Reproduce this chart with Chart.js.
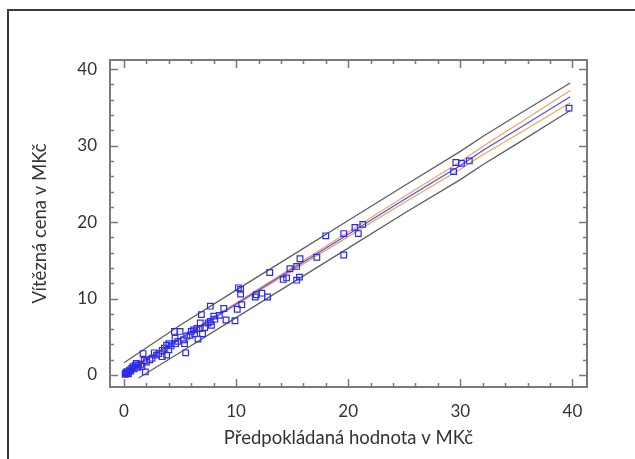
<!DOCTYPE html>
<html>
<head>
<meta charset="utf-8">
<script src="https://cdn.jsdelivr.net/npm/chart.js@4"></script>
<style>
  html, body { margin: 0; padding: 0; background: #fff; }
  #wrap { position: relative; width: 635px; height: 459px; overflow: hidden; }
  #frame { position: absolute; left: 7px; top: 9px; width: 640px; height: 470px;
           border-top: 2px solid #3a3a3a; border-left: 2px solid #3a3a3a; box-sizing: border-box; }
  canvas { position: absolute; left: 0; top: 0; }
</style>
</head>
<body>
<div id="wrap">
  <div id="frame"></div>
  <canvas id="c" width="635" height="459"></canvas>
</div>
<script>
// ---- data ----
const xTicks = [0, 10, 20, 30, 40];
const yTicks = [0, 10, 20, 30, 40];
const xTitle = "Předpokládaná hodnota v MKč";
const yTitle = "Vítězná cena v MKč";

const pointX = [39.7, 30.8, 30.1, 29.6, 29.4, 21.3, 20.9, 20.6, 19.6, 18.0, 19.6, 17.2, 15.7, 15.4, 14.8,
  14.2, 14.5, 15.4, 15.65, 13.0, 10.4, 10.2, 10.4, 11.8, 12.3, 12.8, 11.7, 10.5, 10.1, 9.9,
  9.1, 8.9, 7.7, 6.9, 8.0, 8.5, 8.1, 7.7, 7.8, 7.5, 6.8, 6.8, 7.0, 6.5, 6.2,
  6.6, 6.0, 5.9, 4.5, 5.0, 4.55, 5.3, 5.4, 4.6, 3.8, 4.0, 3.4, 5.5, 3.8, 1.7,
  4.0, 2.9, 3.4, 2.5, 2.0, 1.1, 1.6, 1.9, 0.8, 0.5, 0.4, 0.25, 0.7, 1.0, 1.3,
  0.1, 0.2, 0.3, 0.6, 0.15, 0.9, 1.2, 1.5, 1.8, 2.3, 2.7, 3.1, 3.6, 4.2, 4.8,
  5.6, 6.3, 7.2];
const pointY = [34.9, 28.0, 27.7, 27.8, 26.6, 19.7, 18.5, 19.3, 18.5, 18.2, 15.7, 15.4, 15.2, 14.2, 13.9,
  12.5, 12.7, 12.4, 12.8, 13.4, 11.2, 11.4, 10.6, 10.5, 10.7, 10.2, 10.2, 9.2, 8.6, 7.1,
  7.2, 8.7, 9.0, 7.9, 7.7, 7.8, 7.3, 7.0, 6.5, 6.8, 6.8, 6.1, 5.4, 6.1, 5.9,
  4.7, 5.7, 5.2, 5.7, 5.7, 4.8, 4.6, 4.1, 4.1, 3.9, 3.3, 3.2, 2.9, 2.6, 2.8,
  4.1, 2.6, 2.4, 2.2, 1.7, 1.5, 1.1, 0.4, 1.1, 0.65, 0.2, 0.45, 0.9, 1.3, 1.3,
  0.1, 0.3, 0.15, 0.5, 0.25, 0.8, 1.0, 1.4, 1.9, 2.0, 2.9, 2.8, 3.5, 3.8, 4.4,
  5.1, 5.4, 6.2];

const fitX = [0, 5, 10, 15, 20, 25, 30, 32, 35, 39.8];
const fitY = [0.2, 4.75, 9.3, 13.85, 18.4, 22.95, 27.4, 29.35, 32.05, 36.4];
const ciUpperY = [0.4, 4.85, 9.42, 14.05, 18.7, 23.35, 27.9, 29.9, 32.7, 37.2];
const ciLowerY = [0.0, 4.65, 9.18, 13.65, 18.1, 22.55, 26.9, 28.8, 31.4, 35.6];
const piUpperX = [0, 5, 10, 15, 20, 25, 30, 32, 35, 39.8];
const piUpperY = [1.6, 6.5, 11.1, 15.65, 20.2, 24.75, 29.25, 31.2, 33.9, 38.2];
const piLowerX = [1.3, 5, 10, 15, 20, 25, 30, 32, 35, 39.8];
const piLowerY = [-0.4, 2.95, 7.5, 12.05, 16.6, 21.15, 25.55, 27.5, 30.2, 34.6];

const zip = (xs, ys) => xs.map((x, i) => ({ x: x, y: ys[i] }));

// ---- inward ticks + plot frame ----
const framePlugin = {
  id: 'frameTicks',
  afterDraw(chart) {
    const ctx = chart.ctx, a = chart.chartArea;
    const xs = chart.scales.x, ys = chart.scales.y;
    ctx.save();
    ctx.strokeStyle = '#7a7a7a';
    ctx.lineWidth = 1.5;
    for (let v = 0; v <= 40; v += 2) {
      const major = v % 10 === 0;
      const len = major ? 8 : 4;
      const px = Math.round(xs.getPixelForValue(v)) + 0.5;
      ctx.beginPath();
      ctx.moveTo(px, a.bottom); ctx.lineTo(px, a.bottom - len);
      ctx.moveTo(px, a.top); ctx.lineTo(px, a.top + len);
      ctx.stroke();
      const py = Math.round(ys.getPixelForValue(v)) + 0.5;
      ctx.beginPath();
      ctx.moveTo(a.left, py); ctx.lineTo(a.left + len, py);
      ctx.moveTo(a.right, py); ctx.lineTo(a.right - len, py);
      ctx.stroke();
    }
    ctx.lineWidth = 2;
    ctx.strokeRect(a.left, a.top, a.right - a.left, a.bottom - a.top);
    ctx.restore();
  }
};

const tickFont = { family: 'Lato', size: 17 };
const titleFont = { family: 'Lato', size: 18.5 };

new Chart(document.getElementById('c'), {
  type: 'scatter',
  data: {
    datasets: [
      { data: zip(pointX, pointY), pointStyle: 'rect', radius: 4, borderWidth: 1.2,
        borderColor: '#2b2bf0', backgroundColor: 'rgba(0,0,0,0)', showLine: false },
      { data: zip(fitX, fitY), showLine: true, borderColor: '#4a4aff', borderWidth: 1.2, pointRadius: 0 },
      { data: zip(fitX, ciUpperY), showLine: true, borderColor: '#f2a35c', borderWidth: 1.2, pointRadius: 0 },
      { data: zip(fitX, ciLowerY), showLine: true, borderColor: '#f2a35c', borderWidth: 1.2, pointRadius: 0 },
      { data: zip(piUpperX, piUpperY), showLine: true, borderColor: '#5f5f5f', borderWidth: 1.3, pointRadius: 0 },
      { data: zip(piLowerX, piLowerY), showLine: true, borderColor: '#5f5f5f', borderWidth: 1.3, pointRadius: 0 }
    ]
  },
  options: {
    responsive: false,
    animation: false,
    events: [],
    layout: { padding: { left: 29, top: 60, right: 48, bottom: 10 } },
    plugins: { legend: { display: false }, tooltip: { enabled: false } },
    scales: {
      x: {
        type: 'linear', min: -1.25, max: 41.3,
        afterBuildTicks: s => { s.ticks = xTicks.map(v => ({ value: v })); },
        afterFit: s => { s.height = 62; },
        grid: { display: false, drawTicks: false },
        border: { display: false },
        ticks: { font: tickFont, color: '#333', padding: 14, maxRotation: 0 },
        title: { display: true, text: xTitle, font: titleFont, color: '#333', padding: { top: 4, bottom: 0 } }
      },
      y: {
        type: 'linear', min: -1.57, max: 41.2,
        afterBuildTicks: s => { s.ticks = yTicks.map(v => ({ value: v })); },
        afterFit: s => { s.width = 81; },
        grid: { display: false, drawTicks: false },
        border: { display: false },
        ticks: { font: tickFont, color: '#333', padding: 13 },
        title: { display: true, text: yTitle, font: titleFont, color: '#333', padding: { top: 0, bottom: 0 } }
      }
    }
  },
  plugins: [framePlugin]
});
</script>
</body>
</html>
